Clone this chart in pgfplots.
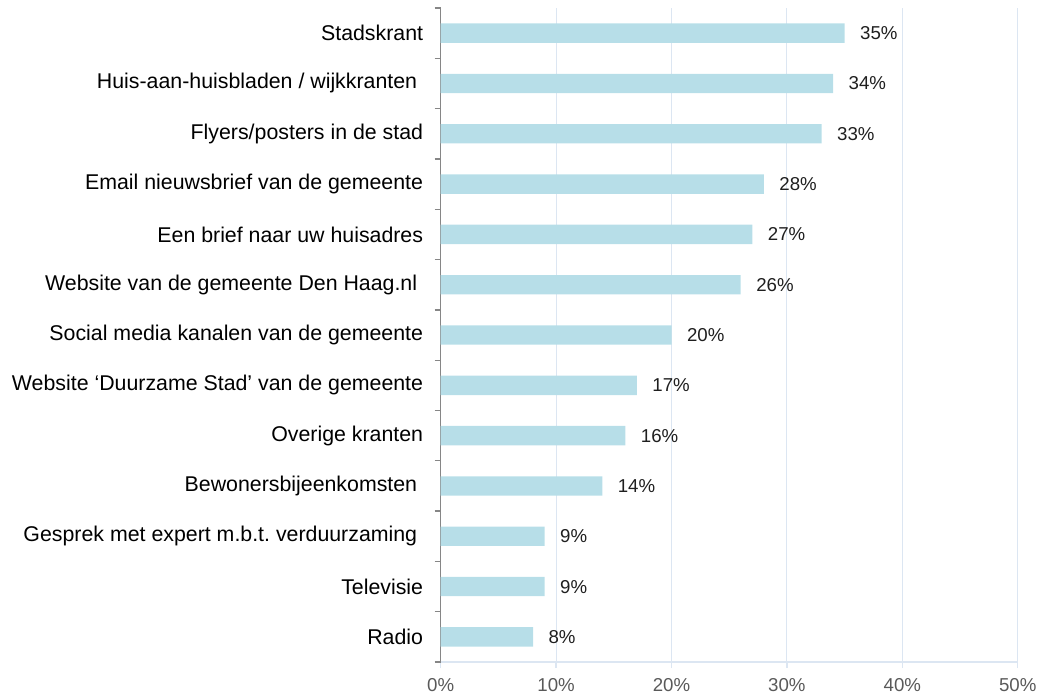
\documentclass[border=0pt]{standalone}
\usepackage{pgfplots}
\pgfplotsset{compat=1.18}
\usepackage{fontspec}
\setmainfont{Liberation Sans}
\frenchspacing
\definecolor{barc}{HTML}{B7DEE8}
\definecolor{gridc}{HTML}{DCE6F2}
\definecolor{axc}{HTML}{868686}
\definecolor{tickc}{HTML}{595959}
\definecolor{valc}{HTML}{1F1F1F}
\begin{document}
\begin{tikzpicture}
\begin{axis}[
 name=ax,
 scale only axis,
 width=432.75pt, height=490.5pt,
 xbar, bar width=14.5pt,
 xmin=0, xmax=50, ymin=-0.5, ymax=12.5,
 enlargelimits=false,
 axis x line*=bottom, axis y line*=left,
 x axis line style={draw=gridc, line width=1.1pt, -},
 y axis line style={draw=axc, line width=1.1pt, -},
 xtick={0,10,...,50}, xticklabels={0\%,10\%,20\%,30\%,40\%,50\%},
 ytick={-0.5,0.5,...,12.5},
 y tick label as interval,
 yticklabels={Radio,Televisie,{Gesprek met expert m.b.t. verduurzaming\kern4.45pt},{Bewonersbijeenkomsten\kern4.45pt},Overige kranten,{Website ‘Duurzame Stad’ van de gemeente},Social media kanalen van de gemeente,{Website van de gemeente Den Haag.nl\kern4.45pt},Een brief naar uw huisadres,Email nieuwsbrief van de gemeente,Flyers/posters in de stad,{Huis-aan-huisbladen / wijkkranten\kern4.45pt},Stadskrant},
 tick align=outside, major tick length=4.5pt,
 xtick style={draw=gridc, line width=0.9pt},
 ytick style={draw=axc, line width=1pt},
 xmajorgrids, grid style={draw=gridc, line width=0.8pt},
 xticklabel style={font=\fontsize{14}{16}\selectfont, text=tickc, yshift=-4.5pt},
 yticklabel style={font=\fontsize{16}{19}\selectfont, text=black, inner sep=0pt, xshift=-8.5pt},
 /pgf/number format/assume math mode=true,
 point meta=x,
 nodes near coords={\pgfmathprintnumber{\pgfplotspointmeta}\%},
 nodes near coords style={font=\fontsize{14}{16}\selectfont, text=valc, anchor=west, inner sep=0pt, xshift=11.5pt},
]
\addplot[fill=barc, draw=none] coordinates {(8,0) (9,1) (9,2) (14,3) (16,4) (17,5) (20,6) (26,7) (27,8) (28,9) (33,10) (34,11) (35,12)};
\end{axis}
\pgfresetboundingbox
\path[use as bounding box] ([xshift=-330.5pt,yshift=-24pt]ax.south west) rectangle ([xshift=448.7pt,yshift=496.5pt]ax.south west);
\end{tikzpicture}
\end{document}
